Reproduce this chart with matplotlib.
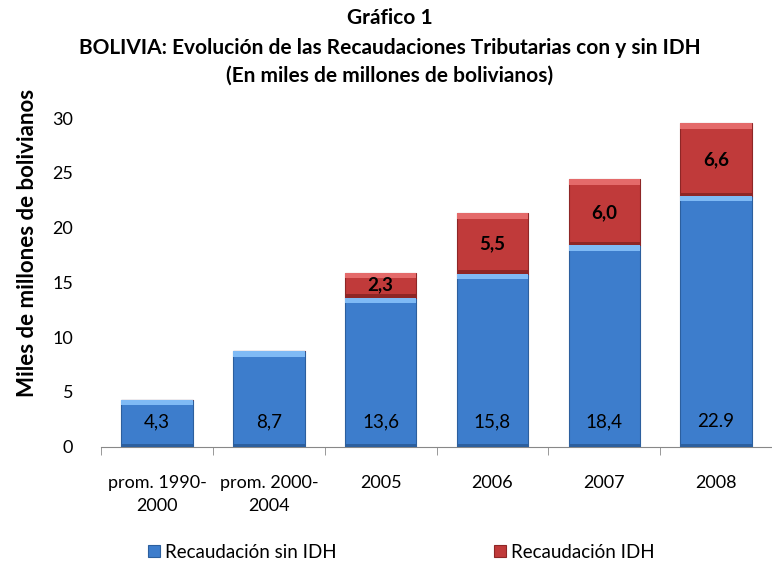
import numpy as np
import matplotlib.pyplot as plt
from matplotlib.patches import Rectangle

plt.rcParams['font.family'] = ['Lato', 'DejaVu Sans']

categorias = ['prom. 1990-\n2000', 'prom. 2000-\n2004', '2005', '2006', '2007', '2008']
sin_idh = [4.3, 8.7, 13.6, 15.8, 18.4, 22.9]
con_idh = [0, 0, 2.3, 5.5, 6.0, 6.6]
etiq_sin = ['4,3', '8,7', '13,6', '15,8', '18,4', '22.9']
etiq_idh = ['', '', '2,3', '5,5', '6,0', '6,6']

azul = '#3d7dcc'
azul_claro = '#7fbaf5'
azul_oscuro = '#2c5f9e'
rojo = '#c03a3a'
rojo_claro = '#e46a6a'
rojo_oscuro = '#8e2626'

fig = plt.figure(figsize=(7.72, 5.62), dpi=100)
ax = fig.add_axes([0.131, 0.205, 0.869, 0.585])

x = np.arange(len(categorias))
ancho = 0.64

ax.bar(x, sin_idh, ancho, color=azul, edgecolor=azul_oscuro, linewidth=0.8,
       label='Recaudación sin IDH', zorder=3)
ax.bar(x, con_idh, ancho, bottom=sin_idh, color=rojo, edgecolor=rojo_oscuro,
       linewidth=0.8, label='Recaudación IDH', zorder=3)

# brillo arriba y sombra abajo de cada segmento (efecto bisel)
franja = 0.5
for xi, v, r in zip(x, sin_idh, con_idh):
    ax.add_patch(Rectangle((xi - ancho / 2, v - franja), ancho, franja,
                           color=azul_claro, zorder=4, lw=0))
    ax.add_patch(Rectangle((xi - ancho / 2, 0), ancho, 0.3,
                           color=azul_oscuro, zorder=4, lw=0))
    if r > 0:
        ax.add_patch(Rectangle((xi - ancho / 2, v + r - franja), ancho, franja,
                               color=rojo_claro, zorder=4, lw=0))
        ax.add_patch(Rectangle((xi - ancho / 2, v), ancho, 0.3,
                               color=rojo_oscuro, zorder=4, lw=0))

for xi, t in zip(x, etiq_sin):
    ax.text(xi, 2.3, t, ha='center', va='center', fontsize=13.5, zorder=5)
for xi, v, r, t in zip(x, sin_idh, con_idh, etiq_idh):
    if t:
        ax.text(xi, v + r / 2, t, ha='center', va='center', fontsize=13.5,
                fontweight='bold', zorder=5)

ax.set_xlim(-0.5, len(categorias) - 0.5)
ax.set_ylim(0, 30)
ax.set_yticks(range(0, 31, 5))
ax.set_xticks(x)
ax.set_xticklabels(categorias, fontsize=13, linespacing=1.55)
ax.tick_params(axis='y', length=0, labelsize=13, pad=20)
ax.tick_params(axis='x', length=0, pad=20)
# marcas entre categorías
ax.set_xticks(np.arange(-0.5, len(categorias)), minor=True)
ax.tick_params(axis='x', which='minor', length=6, color='#888888')

for s in ['top', 'right', 'left']:
    ax.spines[s].set_visible(False)
ax.spines['bottom'].set_color('#888888')

ax.set_ylabel('Miles de millones de bolivianos', fontsize=16, fontweight='bold')
ax.yaxis.set_label_coords(-0.094, 0.62)

fig.text(0.505, 0.968, 'Gráfico 1', ha='center', va='center', fontsize=15, fontweight='bold')
fig.text(0.505, 0.915, 'BOLIVIA: Evolución de las Recaudaciones Tributarias con y sin IDH',
         ha='center', va='center', fontsize=15, fontweight='bold')
fig.text(0.505, 0.865, '(En miles de millones de bolivianos)', ha='center', va='center',
         fontsize=15, fontweight='bold')

ax.legend(loc='upper center', bbox_to_anchor=(0.448, -0.243), ncol=2, frameon=False,
          fontsize=13.5, handlelength=0.6, handleheight=0.6, columnspacing=8.4,
          handletextpad=0.3)

fig.savefig('out.png', dpi=100)
